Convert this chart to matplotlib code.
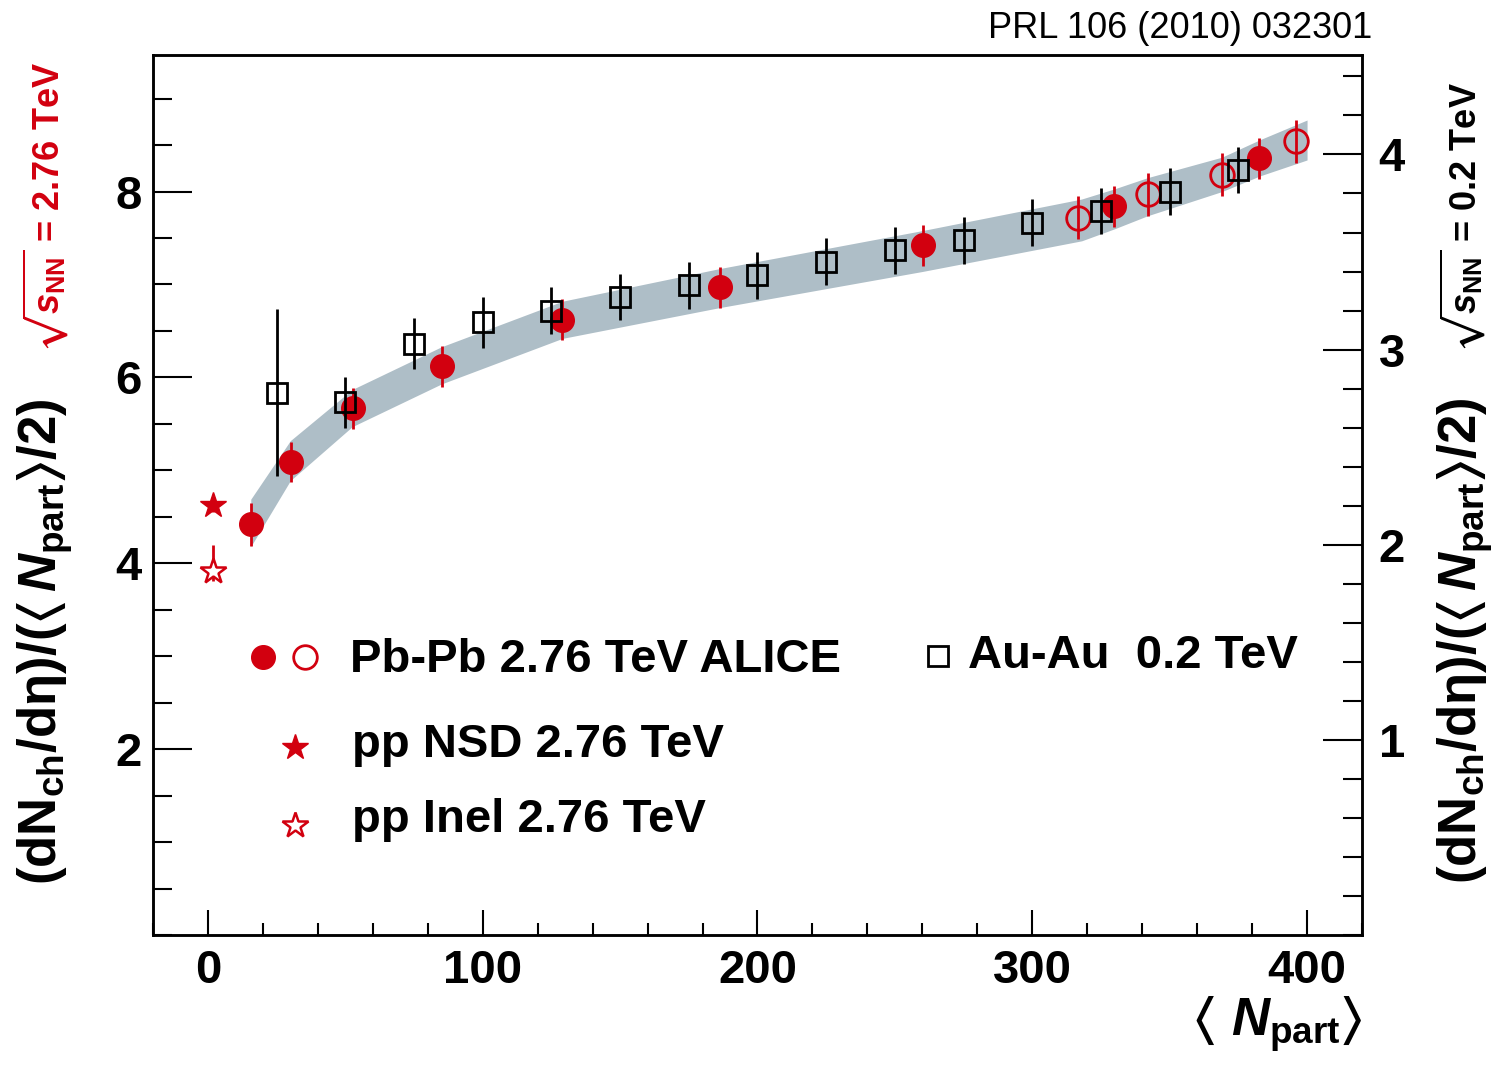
import matplotlib
matplotlib.use("Agg")
import matplotlib.pyplot as plt
from matplotlib.ticker import MultipleLocator

plt.rcParams['font.family'] = ['Liberation Sans', 'DejaVu Sans']
plt.rcParams['font.weight'] = 'bold'
plt.rcParams['mathtext.fontset'] = 'custom'
plt.rcParams['mathtext.rm'] = 'Liberation Sans:bold'
plt.rcParams['mathtext.it'] = 'Liberation Sans:italic:bold'
plt.rcParams['mathtext.bf'] = 'Liberation Sans:bold'
plt.rcParams['mathtext.sf'] = 'Liberation Sans:bold'
plt.rcParams['mathtext.fallback'] = 'stixsans'

RED = '#d2000f'
BAND = '#aebec7'

# Pb-Pb 2.76 TeV ALICE (left axis), filled points
pb_npart = [15.6, 30.2, 52.7, 85.1, 128.7, 186.5, 260.4, 329.8, 382.5]
pb_val = [4.42, 5.09, 5.67, 6.12, 6.62, 6.97, 7.42, 7.84, 8.36]
pb_err = [0.23, 0.22, 0.22, 0.22, 0.22, 0.22, 0.22, 0.22, 0.22]

# Pb-Pb open points
pbo_npart = [316.7, 342.2, 369.1, 396.0]
pbo_val = [7.72, 7.97, 8.18, 8.54]
pbo_err = [0.23, 0.23, 0.23, 0.23]

# systematic band
band_x = [15.6, 30, 52.5, 85, 129, 186, 260, 318, 330, 342, 369, 383, 400]
band_lo = [4.18, 4.89, 5.47, 5.93, 6.42, 6.75, 7.14, 7.47, 7.60, 7.74, 8.00, 8.17, 8.34]
band_hi = [4.69, 5.32, 5.87, 6.33, 6.82, 7.17, 7.58, 7.92, 8.03, 8.15, 8.37, 8.56, 8.77]

# pp 2.76 TeV
pp_nsd_x, pp_nsd_y, pp_nsd_err = [2.0], [4.63], [0.08]
pp_inel_x, pp_inel_y = [2.0], [3.92]
pp_inel_err_lo, pp_inel_err_hi = [0.11], [0.28]

# Au-Au 0.2 TeV (right axis)
au_npart = [25, 50, 75, 100, 125, 150, 175, 200, 225, 250, 275, 300, 325, 350, 375]
au_val = [2.78, 2.73, 3.03, 3.14, 3.20, 3.27, 3.33, 3.38, 3.45, 3.51, 3.56, 3.65, 3.71, 3.81, 3.92]
au_err = [0.43, 0.13, 0.13, 0.13, 0.12, 0.12, 0.12, 0.12, 0.12, 0.12, 0.12, 0.12, 0.12, 0.12, 0.12]

fig = plt.figure(figsize=(15.1, 10.67), dpi=100)
ax = fig.add_axes([0.1013, 0.1237, 0.8007, 0.8248])
ax2 = ax.twinx()

ax.fill_between(band_x, band_lo, band_hi, color=BAND, lw=0, zorder=1)

ax.errorbar(pb_npart, pb_val, yerr=pb_err, fmt='o', ms=17, color=RED,
            mec=RED, elinewidth=2, capsize=0, zorder=4)
ax.errorbar(pbo_npart, pbo_val, yerr=pbo_err, fmt='o', ms=17, color=RED,
            mfc='none', mec=RED, mew=2, elinewidth=2, capsize=0, zorder=4)
ax.errorbar(pp_nsd_x, pp_nsd_y, yerr=pp_nsd_err, fmt='*', ms=19, color=RED,
            elinewidth=2, capsize=0, zorder=4)
ax.errorbar(pp_inel_x, pp_inel_y, yerr=[pp_inel_err_lo, pp_inel_err_hi], fmt='*',
            ms=19, color=RED, mfc='white', mec=RED, mew=1.8, elinewidth=2,
            capsize=0, zorder=4)

ax2.errorbar(au_npart, au_val, yerr=au_err, fmt='s', ms=14, color='black',
             mfc='none', mec='black', mew=2, elinewidth=2, capsize=0, zorder=5)

ax.set_xlim(-20, 420)
ax.set_ylim(0, 9.47)
ax2.set_ylim(0, 4.51)

for a in (ax, ax2):
    for s in a.spines.values():
        s.set_linewidth(1.8)

ax.xaxis.set_major_locator(MultipleLocator(100))
ax.xaxis.set_minor_locator(MultipleLocator(20))
ax.yaxis.set_major_locator(MultipleLocator(2))
ax.yaxis.set_minor_locator(MultipleLocator(0.5))
ax2.yaxis.set_major_locator(MultipleLocator(1))
ax2.yaxis.set_minor_locator(MultipleLocator(0.2))

ax.tick_params(axis='x', which='major', direction='in', length=18, width=1.5,
               top=False, labelsize=34, pad=10)
ax.tick_params(axis='x', which='minor', direction='in', length=9, width=1.5, top=False)
ax.tick_params(axis='y', which='major', direction='in', length=28, width=1.5,
               right=False, labelsize=34, pad=8)
ax.tick_params(axis='y', which='minor', direction='in', length=14, width=1.5, right=False)
ax2.tick_params(axis='y', which='major', direction='in', length=28, width=1.5,
                labelsize=34, pad=12)
ax2.tick_params(axis='y', which='minor', direction='in', length=14, width=1.5)
ax.set_yticks([2, 4, 6, 8])
ax2.set_yticks([1, 2, 3, 4])

# legend, drawn by hand
tr = ax.transAxes
ax.plot([0.091], [0.316], 'o', ms=17, color=RED, transform=tr, clip_on=False)
ax.plot([0.1257], [0.316], 'o', ms=17, mfc='none', mec=RED, mew=2, transform=tr, clip_on=False)
ax.plot([0.1175], [0.2136], '*', ms=19, color=RED, transform=tr, clip_on=False)
ax.plot([0.1175], [0.125], '*', ms=19, mfc='white', mec=RED, mew=1.8, transform=tr, clip_on=False)
ax.plot([0.6493], [0.317], 's', ms=14, mfc='none', mec='black', mew=2, transform=tr, clip_on=False)
ax.text(0.163, 0.3125, 'Pb-Pb 2.76 TeV ALICE', transform=tr, fontsize=34, va='center')
ax.text(0.1646, 0.216, 'pp NSD 2.76 TeV', transform=tr, fontsize=34, va='center')
ax.text(0.1646, 0.1307, 'pp Inel 2.76 TeV', transform=tr, fontsize=34, va='center')
ax.text(0.674, 0.317, 'Au-Au  0.2 TeV', transform=tr, fontsize=34, va='center')

ylab = r'(d$\mathrm{N_{ch}}$/d$\mathrm{\eta}$)/($\langle\,N_{\mathrm{part}}\rangle$/2)'
fig.text(0.030, 0.399, ylab, rotation=90, fontsize=38, ha='center', va='center')
fig.text(0.970, 0.400, ylab, rotation=90, fontsize=38, ha='center', va='center')
fig.text(0.030, 0.806, r'$\sqrt{s_{\mathrm{NN}}}$ = 2.76 TeV', rotation=90,
         fontsize=26, color=RED, ha='center', va='center')
fig.text(0.968, 0.796, r'$\sqrt{s_{\mathrm{NN}}}$ = 0.2 TeV', rotation=90,
         fontsize=26, color='black', ha='center', va='center')
fig.text(0.902, 0.040, r'$\langle\ N_{\mathrm{part}}\rangle$', fontsize=38,
         ha='right', va='center')
fig.text(0.909, 0.973, 'PRL 106 (2010) 032301', fontsize=26, fontweight='normal',
         ha='right', va='center')

fig.savefig('out.png', dpi=100)
